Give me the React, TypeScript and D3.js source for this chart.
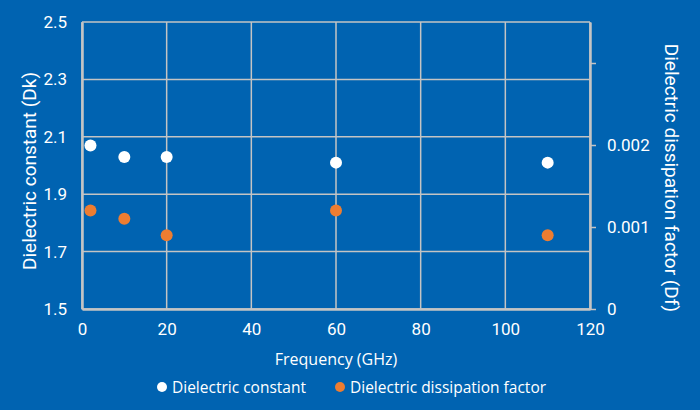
import * as d3 from "d3";
import { useEffect, useRef } from "react";

const frequencies = [2, 10, 20, 60, 110];
const dkValues = [2.07, 2.03, 2.03, 2.01, 2.01];
const dfValues = [0.0012, 0.0011, 0.0009, 0.0012, 0.0009];
const xTicks = [0, 20, 40, 60, 80, 100, 120];
const dkTicks = [1.5, 1.7, 1.9, 2.1, 2.3, 2.5];
const dfTicks = [0, 0.001, 0.002, 0.003];
const dfTickLabels = ["0", "0.001", "0.002", ""];

const WIDTH = 700;
const HEIGHT = 410;
const MARGIN = { top: 22, right: 110, bottom: 101, left: 82 };
const BG = "#0063b1";
const GRID = "#c4c4c4";
const ORANGE = "#ed7d31";
const TICK_FONT = "Roboto, sans-serif";
const LABEL_FONT = "'Open Sans', sans-serif";

export default function App() {
  const svgRef = useRef<SVGSVGElement | null>(null);

  useEffect(() => {
    if (!svgRef.current) return;
    const innerWidth = WIDTH - MARGIN.left - MARGIN.right;
    const innerHeight = HEIGHT - MARGIN.top - MARGIN.bottom;

    const svg = d3.select(svgRef.current);
    svg.selectAll("*").remove();

    svg.append("rect").attr("width", WIDTH).attr("height", HEIGHT).attr("fill", BG);

    const x = d3.scaleLinear().domain([0, 120]).range([0, innerWidth]);
    const yDk = d3.scaleLinear().domain([1.5, 2.5]).range([innerHeight, 0]);
    const yDf = d3.scaleLinear().domain([0, 0.0035]).range([innerHeight, 0]);

    const root = svg
      .append("g")
      .attr("transform", `translate(${MARGIN.left},${MARGIN.top})`);

    // grid
    root
      .append("g")
      .selectAll("line")
      .data(dkTicks)
      .join("line")
      .attr("x1", 0)
      .attr("x2", innerWidth)
      .attr("y1", (d) => yDk(d))
      .attr("y2", (d) => yDk(d))
      .attr("stroke", GRID)
      .attr("stroke-width", 1.5);

    root
      .append("g")
      .selectAll("line")
      .data(xTicks)
      .join("line")
      .attr("x1", (d) => x(d))
      .attr("x2", (d) => x(d))
      .attr("y1", 0)
      .attr("y2", innerHeight)
      .attr("stroke", GRID)
      .attr("stroke-width", 1.5);

    // left axis (labels only)
    const left = root
      .append("g")
      .call(d3.axisLeft(yDk).tickValues(dkTicks).tickSize(0).tickPadding(15).tickFormat(d3.format(".1f")));
    left.select(".domain").attr("stroke", GRID).attr("stroke-width", 2.5);

    // bottom axis
    const bottom = root
      .append("g")
      .attr("transform", `translate(0,${innerHeight})`)
      .call(d3.axisBottom(x).tickValues(xTicks).tickSize(0).tickPadding(14));
    bottom.select(".domain").attr("stroke", GRID).attr("stroke-width", 2.5);

    // right axis
    const right = root
      .append("g")
      .attr("transform", `translate(${innerWidth},0)`)
      .call(
        d3
          .axisRight(yDf)
          .tickValues(dfTicks)
          .tickSizeInner(6)
          .tickSizeOuter(0)
          .tickPadding(11)
          .tickFormat((_, i) => dfTickLabels[i]),
      );
    right.select(".domain").attr("stroke", GRID).attr("stroke-width", 2.5);
    right.selectAll(".tick line").attr("stroke", GRID).attr("stroke-width", 1.5);

    root
      .selectAll(".tick text")
      .attr("fill", "#ffffff")
      .attr("font-family", TICK_FONT)
      .attr("font-size", 17);

    // points
    root
      .append("g")
      .selectAll("circle")
      .data(frequencies)
      .join("circle")
      .attr("cx", (d) => x(d))
      .attr("cy", (_, i) => yDk(dkValues[i]))
      .attr("r", 6)
      .attr("fill", "#ffffff");

    root
      .append("g")
      .selectAll("circle")
      .data(frequencies)
      .join("circle")
      .attr("cx", (d) => x(d))
      .attr("cy", (_, i) => yDf(dfValues[i]))
      .attr("r", 6)
      .attr("fill", ORANGE);

    // axis titles
    svg
      .append("text")
      .attr("transform", `translate(36,171) rotate(-90)`)
      .attr("text-anchor", "middle")
      .attr("fill", "#ffffff")
      .attr("font-family", TICK_FONT)
      .attr("font-size", 19)
      .text("Dielectric constant (Dk)");

    svg
      .append("text")
      .attr("transform", `translate(665,178) rotate(90)`)
      .attr("text-anchor", "middle")
      .attr("fill", "#ffffff")
      .attr("font-family", TICK_FONT)
      .attr("font-size", 19)
      .text("Dielectric dissipation factor (Df)");

    svg
      .append("text")
      .attr("x", MARGIN.left + innerWidth / 2)
      .attr("y", 365)
      .attr("text-anchor", "middle")
      .attr("fill", "#ffffff")
      .attr("font-family", LABEL_FONT)
      .attr("font-size", 16)
      .text("Frequency (GHz)");

    // legend
    const legend = [
      { label: "Dielectric constant", color: "#ffffff", x: 162 },
      { label: "Dielectric dissipation factor", color: ORANGE, x: 340 },
    ];
    const items = svg
      .append("g")
      .selectAll("g")
      .data(legend)
      .join("g")
      .attr("transform", (d) => `translate(${d.x},387)`);
    items.append("circle").attr("r", 5).attr("fill", (d) => d.color);
    items
      .append("text")
      .attr("x", 10)
      .attr("y", 6)
      .attr("fill", "#ffffff")
      .attr("font-family", LABEL_FONT)
      .attr("font-size", 15.5)
      .text((d) => d.label);
  }, []);

  return (
    <svg
      ref={svgRef}
      width={WIDTH}
      height={HEIGHT}
      style={{ position: "absolute", left: 0, top: 0, display: "block" }}
    />
  );
}
